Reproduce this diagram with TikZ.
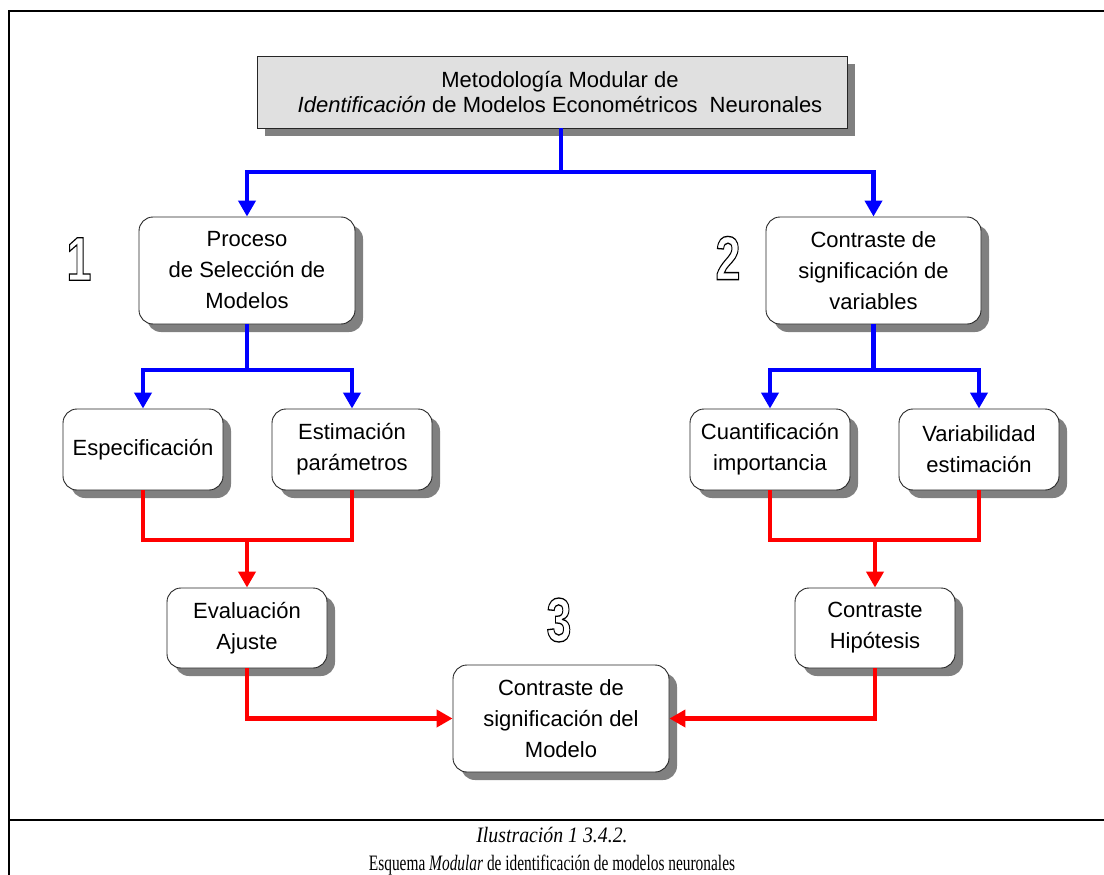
\documentclass[tikz,border=0pt]{standalone}
\usepackage{fontspec}
\usepackage{graphicx}
\setmainfont{Liberation Sans}
\newfontfamily\capfont{Liberation Serif}
\usetikzlibrary{arrows.meta,shadows}

\definecolor{shade}{HTML}{808080}
\definecolor{titlefill}{HTML}{E0E0E0}
\definecolor{linkblue}{HTML}{0000FF}
\definecolor{linkred}{HTML}{FF0000}

\tikzset{
  boxbase/.style={draw=black!85, line width=0.9pt, fill=white, align=center,
    inner sep=0pt, font=\fontsize{22}{31}\selectfont,
    drop shadow={shadow xshift=8pt, shadow yshift=-8pt, fill=shade, opacity=1}},
  roundbox/.style={boxbase, rounded corners=14pt},
  titlebox/.style={boxbase, fill=titlefill, font=\fontsize{22}{25}\selectfont},
  bluelink/.style={draw=linkblue, line width=4.5pt},
  redlink/.style={draw=linkred, line width=4.5pt},
  tip/.style={-{Triangle[length=16pt,width=17pt]}},
  stepnum/.style={inner sep=0pt, font=\fontsize{62}{62}\selectfont\bfseries},
  frameline/.style={line width=2pt, draw=black},
  captext/.style={inner sep=0pt, font=\capfont\fontsize{22}{26}\selectfont}
}

% outlined (stroked, unfilled) glyphs
\newcommand{\hollow}[1]{\scalebox{0.72}[1]{\special{pdf:literal direct 1 Tr 1.3 w}#1\special{pdf:literal direct 0 Tr}}}

\begin{document}
\begin{tikzpicture}[x=1pt,y=-1pt]
\useasboundingbox (0,0) rectangle (1104,875);

% outer frame and caption rule
\draw[frameline] (9,875) -- (9,11) -- (1104,11);
\draw[frameline] (9,820) -- (1104,820);

% title
\node[titlebox, minimum width=590pt, minimum height=72pt] (title) at (552,92)
  {\hspace*{16pt}Metodología Modular de\\\hspace*{16pt}\textit{Identificación} de Modelos Econométricos\ \ Neuronales};

% module 1
\node[roundbox, minimum width=216pt, minimum height=107pt] (sel) at (247,270.5)
  {Proceso\\de Selección de\\Modelos};
\node[roundbox, minimum width=160pt, minimum height=81pt] (esp) at (143,449.5)
  {Especificación};
\node[roundbox, minimum width=160pt, minimum height=81pt] (est) at (352,449.5)
  {Estimación\\parámetros};
\node[roundbox, minimum width=160pt, minimum height=80pt] (eva) at (247,628)
  {Evaluación\\Ajuste};

% module 2
\node[roundbox, minimum width=215pt, minimum height=107pt] (sig) at (873.5,270.5)
  {Contraste de\\significación de\\variables};
\node[roundbox, minimum width=160pt, minimum height=81pt] (cua) at (770,449.5)
  {Cuantificación\\importancia};
\node[roundbox, minimum width=160pt, minimum height=81pt] (var) at (979,449.5)
  {Variabilidad\\estimación};
\node[roundbox, minimum width=160pt, minimum height=80pt] (hip) at (875,628)
  {Contraste\\Hipótesis};

% module 3
\node[roundbox, minimum width=216pt, minimum height=107pt] (mod) at (561,718.5)
  {Contraste de\\significación del\\Modelo};

% module numbers
\node[stepnum] (n1) at (79,259) {\hollow{1}};
\node[stepnum] (n2) at (728,258) {\hollow{2}};
\node[stepnum] (n3) at (559,620) {\hollow{3}};

% branch points
\coordinate (b0) at (561,172);
\coordinate (b1) at (247,370);
\coordinate (b2) at (873.5,370);
\coordinate (r1) at (247,540);
\coordinate (r2) at (875,540);

% blue connectors
\draw[bluelink] (b0 |- title.south) -- (b0);
\draw[bluelink, tip] (b0) -| (sel.north);
\draw[bluelink, tip] (b0) -| (sig.north);
\draw[bluelink] (sel.south) -- (b1);
\draw[bluelink, tip] (b1) -| (esp.north);
\draw[bluelink, tip] (b1) -| (est.north);
\draw[bluelink] (sig.south) -- (b2);
\draw[bluelink, tip] (b2) -| (cua.north);
\draw[bluelink, tip] (b2) -| (var.north);

% red connectors
\draw[redlink] (esp.south) |- (r1) -| (est.south);
\draw[redlink, tip] (r1) -- (eva.north);
\draw[redlink] (cua.south) |- (r2) -| (var.south);
\draw[redlink, tip] (r2) -- (hip.north);
\draw[redlink, tip] (eva.south) |- (mod.west);
\draw[redlink, tip] (hip.south) |- (mod.east);

% caption
\node[captext] (cap1) at (552,835) {\scalebox{0.9}[1]{\itshape Ilustración 1 3.4.2.}};
\node[captext] (cap2) at (552,865) {\scalebox{0.7}[1]{Esquema \textit{Modular} de identificación de modelos neuronales}};
\end{tikzpicture}
\end{document}
